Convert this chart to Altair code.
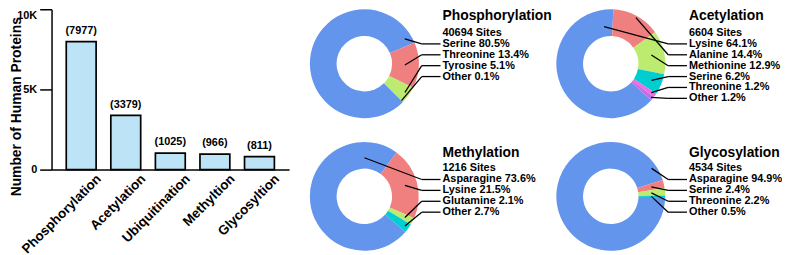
import math
import altair as alt
import pandas as pd

FONT = "Liberation Sans"

# ---------------- data ----------------
ptm_types = ["Phosphorylation", "Acetylation", "Ubiquitination", "Methyltion", "Glycosyltion"]
protein_counts = [7977, 3379, 1025, 966, 811]

phos_residues = ["Serine", "Threonine", "Tyrosine", "Other"]
phos_pct = [80.5, 13.4, 5.1, 0.1]
phos_sites = 40694

acet_residues = ["Lysine", "Alanine", "Methionine", "Serine", "Threonine", "Other"]
acet_pct = [64.1, 14.4, 12.9, 6.2, 1.2, 1.2]
acet_sites = 6604

meth_residues = ["Asparagine", "Lysine", "Glutamine", "Other"]
meth_pct = [73.6, 21.5, 2.1, 2.7]
meth_sites = 1216

glyc_residues = ["Asparagine", "Serine", "Threonine", "Other"]
glyc_pct = [94.9, 2.4, 2.2, 0.5]
glyc_sites = 4534

slice_colors = ["#6495ED", "#F08080", "#BDEB70", "#00CED1", "#F26CE0", "#C86BE8"]

# ---------------- layout (local pixel coords of the layer view) ----------------
OUTER_R, INNER_R = 55, 28
donut_specs = [
    dict(title="Phosphorylation", sites=phos_sites, res=phos_residues, pct=phos_pct,
         cx=316, cy=55, start=135, ty=7, sy=24, ly=35, lead=(9, 48)),
    dict(title="Acetylation", sites=acet_sites, res=acet_residues, pct=acet_pct,
         cx=565, cy=55, start=132, ty=7, sy=24, ly=35, lead=(13, 38)),
    dict(title="Methylation", sites=meth_sites, res=meth_residues, pct=meth_pct,
         cx=316, cy=189, start=131, ty=145, sy=160, ly=172, lead=(36, 39)),
    dict(title="Glycosylation", sites=glyc_sites, res=glyc_residues, pct=glyc_pct,
         cx=565, cy=189, start=91, ty=145, sy=160, ly=172, lead=(17, 50)),
]
LINE_STEP = 11

ident_x = alt.Scale(domain=[0, 1000], range=[0, 1000], nice=False, zero=False)
ident_y = alt.Scale(domain=[0, 1000], range=[0, 1000], nice=False, zero=False)

# ---------------- bar chart ----------------
bar_df = pd.DataFrame({"ptm": ptm_types, "count": protein_counts})
bar_df["label"] = ["(" + str(c) + ")" for c in protein_counts]

xband = alt.Scale(paddingInner=0.33, paddingOuter=0.33)
bars = alt.Chart(bar_df).mark_bar(color="#BDE3F7", stroke="black", strokeWidth=1.7).encode(
    x=alt.X("ptm:N", sort=None, scale=xband,
            axis=alt.Axis(title=None, labelAngle=-45, ticks=False, domainColor="black",
                          domainWidth=1.5, labelFont=FONT, labelFontSize=13.5,
                          labelFontWeight="bold", labelColor="black", labelPadding=2,
                          labelOffset=13)),
    y=alt.Y("count:Q", scale=alt.Scale(domain=[0, 10000]),
            axis=alt.Axis(values=[0, 5000, 10000],
                          labelExpr="datum.value == 0 ? '0' : (datum.value/1000) + 'K'",
                          labelBaseline={"condition": {"test": "datum.value == 10000", "value": "top"},
                                         "value": "middle"},
                          tickSize=12, tickWidth=1.5, tickColor="black",
                          domainColor="black", domainWidth=1.5, grid=False,
                          labelFont=FONT, labelFontSize=11, labelFontWeight="bold",
                          labelColor="black", labelPadding=3,
                          title="Number of Human Proteins", titleFont=FONT,
                          titleFontSize=14, titleFontWeight="bold", titleColor="black",
                          titleX=-31, titleY=98, titleAngle=-90, titleAlign="center",
                          titleBaseline="alphabetic")),
)
bar_text = alt.Chart(bar_df).mark_text(dy=-6, baseline="bottom", font=FONT, fontSize=11,
                                       fontWeight="bold", color="black").encode(
    x=alt.X("ptm:N", sort=None, scale=xband),
    y=alt.Y("count:Q", scale=alt.Scale(domain=[0, 10000])),
    text="label:N",
)
bar_group = alt.layer(bars, bar_text)

# ---------------- donuts ----------------
arc_layers = []
text_rows = []
title_rows = []
rule_rows = []
for d in donut_specs:
    total = sum(d["pct"])
    cum = 0.0
    rows = []
    for i, (r, p) in enumerate(zip(d["res"], d["pct"])):
        rows.append({"rank": i, "res": r, "pct": p, "c0": cum, "c1": cum + p})
        # leader line anchor
        a0 = d["start"] + 360 * cum / total
        a1 = d["start"] + 360 * (cum + p) / total
        if i == 0:
            a = a1 - d["lead"][0]
            rad = d["lead"][1]
        else:
            a = (a0 + a1) / 2
            s = math.sin(math.radians(a))
            rad = 41 / s if s > 0.3 else 43
            rad = max(40, min(53, rad))
        ax = d["cx"] + rad * math.sin(math.radians(a))
        ay = d["cy"] - rad * math.cos(math.radians(a))
        ly = d["ly"] + i * LINE_STEP
        ex = d["cx"] + 58
        rule_rows.append({"x": ax, "y": ay, "x2": ex, "y2": ly})
        rule_rows.append({"x": ex, "y": ly, "x2": d["cx"] + 77, "y2": ly})
        text_rows.append({"x": d["cx"] + 79, "y": ly, "t": f"{r} {p}%"})
        cum += p
    text_rows.append({"x": d["cx"] + 79, "y": d["sy"], "t": f"{d['sites']} Sites"})
    title_rows.append({"x": d["cx"] + 79, "y": d["ty"], "t": d["title"]})
    df = pd.DataFrame(rows)
    s_rad = math.radians(d["start"])
    arc = alt.Chart(df).mark_arc(radius=OUTER_R, radius2=INNER_R, strokeWidth=0).encode(
        theta=alt.Theta("c0:Q", scale=alt.Scale(domain=[0, total], range=[s_rad, s_rad + 2 * math.pi])),
        theta2="c1:Q",
        color=alt.Color("rank:O", scale=alt.Scale(domain=list(range(6)), range=slice_colors), legend=None),
        x=alt.value(d["cx"]),
        y=alt.value(d["cy"]),
    )
    arc_layers.append(arc)

rules = alt.Chart(pd.DataFrame(rule_rows)).mark_rule(color="black", strokeWidth=1.3).encode(
    x=alt.X("x:Q", scale=ident_x, axis=None),
    y=alt.Y("y:Q", scale=ident_y, axis=None),
    x2="x2:Q", y2="y2:Q",
)
labels = alt.Chart(pd.DataFrame(text_rows)).mark_text(align="left", baseline="middle", font=FONT,
                                                      fontSize=11, fontWeight="bold", color="black").encode(
    x=alt.X("x:Q", scale=ident_x, axis=None),
    y=alt.Y("y:Q", scale=ident_y, axis=None),
    text="t:N",
)
titles = alt.Chart(pd.DataFrame(title_rows)).mark_text(align="left", baseline="middle", font=FONT,
                                                       fontSize=14, fontWeight="bold", color="black").encode(
    x=alt.X("x:Q", scale=ident_x, axis=None),
    y=alt.Y("y:Q", scale=ident_y, axis=None),
    text="t:N",
)
annot_group = alt.layer(rules, labels, titles)

chart = alt.layer(bar_group, *arc_layers, annot_group).resolve_scale(
    x="independent", y="independent", theta="independent"
).properties(
    width=240, height=162,
    autosize=alt.AutoSizeParams(type="none"),
    padding={"left": 44, "top": 0, "right": 498, "bottom": 85},
).configure_view(stroke=None)

chart.save("out.html", embed_options={"renderer": "svg", "actions": False})
